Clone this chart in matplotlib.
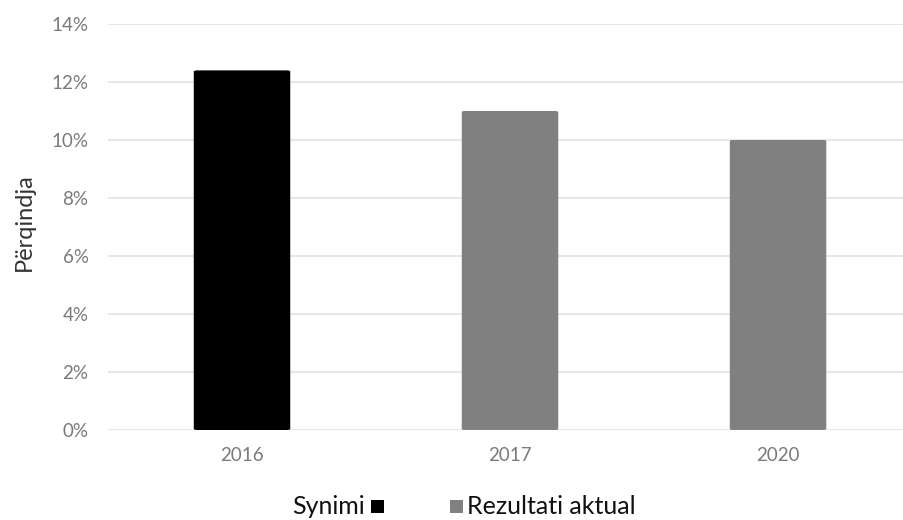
import matplotlib
matplotlib.use("Agg")
import matplotlib.pyplot as plt
from matplotlib.patches import FancyBboxPatch, Rectangle

years = ["2016", "2017", "2020"]
values = [0.124, 0.110, 0.100]
bar_colors = ["#000000", "#808080", "#808080"]
yticks = [0.0, 0.02, 0.04, 0.06, 0.08, 0.10, 0.12, 0.14]
ytick_labels = ["0%", "2%", "4%", "6%", "8%", "10%", "12%", "14%"]
legend_labels = ["Synimi", "Rezultati aktual"]

plt.rcParams["font.family"] = ["Lato", "DejaVu Sans"]

W, H = 904, 520
fig = plt.figure(figsize=(W / 100, H / 100), dpi=100)
ax = fig.add_axes([108 / W, 90 / H, (904 - 108) / W, 406 / H])

x = list(range(len(years)))
bars = ax.bar(x, values, width=0.36, color=bar_colors, zorder=3)

# Replace square bars with slightly rounded ones
for b in bars:
    b.set_visible(False)
    fb = FancyBboxPatch((b.get_x(), 0), b.get_width(), b.get_height(),
                        boxstyle="round,pad=0,rounding_size=0.012",
                        mutation_aspect=0.14 / 2.97 * 796 / 406 * 0.35,
                        facecolor=b.get_facecolor(), edgecolor="none", zorder=3)
    ax.add_patch(fb)

ax.set_xlim(-0.5, 2.47)
ax.set_ylim(0, 0.14)
ax.set_yticks(yticks)
ax.set_yticklabels(ytick_labels)
ax.set_xticks(x)
ax.set_xticklabels(years)
ax.yaxis.grid(True, color="#e3e3e3", linewidth=1.2, zorder=0)
for s in ax.spines.values():
    s.set_visible(False)
ax.tick_params(axis="both", length=0, labelsize=13.5, labelcolor="#7a7a7a")
ax.tick_params(axis="y", pad=14)
ax.tick_params(axis="x", pad=12)

fig.text(24 / W, 1 - 222 / H, "Përqindja", rotation=90, ha="center", va="center",
         fontsize=17, color="#333333")

# Legend: label then marker for the target, marker then label for the actual result
ly = 1 - 506 / H
fig.text(365 / W, ly, legend_labels[0], ha="right", va="center", fontsize=18, color="#111111")
fig.patches.append(Rectangle((371 / W, ly - 6.5 / H), 13 / W, 13 / H, transform=fig.transFigure,
                             facecolor=bar_colors[0], edgecolor="none"))
fig.patches.append(Rectangle((450 / W, ly - 6.5 / H), 13 / W, 13 / H, transform=fig.transFigure,
                             facecolor=bar_colors[1], edgecolor="none"))
fig.text(467 / W, ly, legend_labels[1], ha="left", va="center", fontsize=18, color="#111111")

fig.savefig("out.png", dpi=100, facecolor="white")
